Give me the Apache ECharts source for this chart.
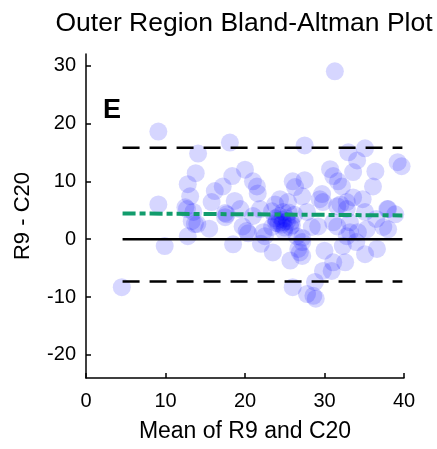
<!DOCTYPE html>
<html>
<head>
<meta charset="utf-8">
<style>
  html, body { margin: 0; padding: 0; background: #fff; }
  #chart { width: 437px; height: 449px; }
</style>
<script src="https://cdn.jsdelivr.net/npm/echarts@6/dist/echarts.min.js"></script>
</head>
<body>
<div id="chart"></div>
<script>
// Mean of the two measurements (x) and their difference R9 - C20 (y)
const meanValues = [
  31.3, 9.1, 18.1, 27.5, 14.1, 33.0, 35.1, 34.1, 39.2, 39.7,
  20.0, 21.0, 21.5, 21.6, 26.0, 27.5, 26.3, 27.2, 30.7, 31.1,
  31.7, 32.2, 33.6, 36.4, 36.1, 29.7, 29.4, 33.6, 34.8, 38.0,
  38.9, 24.4, 23.8, 23.4, 32.0, 32.8, 21.9, 13.8, 12.8, 13.1,
  12.5, 9.1, 16.2, 17.2, 18.4, 15.8, 18.7, 19.4, 17.5, 13.5,
  12.7, 13.3, 13.7, 12.8, 9.9, 4.5, 18.5, 17.7, 20.2, 20.4,
  23.5, 25.7, 27.2, 26.7, 30.0, 29.8, 31.1, 32.3, 32.6, 35.1,
  36.6, 28.8, 26.0, 28.6, 28.9, 29.2, 28.4, 31.6, 32.8, 34.2,
  35.3, 37.4, 37.9, 38.0, 35.1, 32.8, 31.6, 19.7, 21.0, 22.3,
  23.4, 25.7, 26.5, 27.2, 24.8, 27.8, 25.4, 29.8, 27.8, 30.9,
  26.9, 27.2, 33.2, 31.1, 33.2, 14.0, 17.5, 22.5, 24.8, 24.0,
  24.6, 25.2, 25.0, 24.3, 25.8, 23.8, 26.2, 24.9, 25.5, 36.5,
  15.5, 22.0, 34.0, 24.2, 25.3, 24.7, 25.9, 23.9
];
const diffValues = [
  29.0, 18.6, 16.7, 16.2, 14.8, 15.0, 15.7, 13.6, 13.3, 12.6,
  12.0, 10.0, 9.1, 7.9, 10.0, 10.2, 9.0, 7.4, 12.1, 10.9,
  10.0, 9.1, 11.6, 11.7, 9.1, 7.8, 6.9, 7.2, 6.9, 5.2,
  4.3, 6.9, 6.0, 4.8, 6.0, 5.2, 5.2, 11.4, 9.5, 7.4,
  5.5, 6.0, 8.3, 9.1, 10.9, 6.4, 6.6, 5.2, 4.5, 4.7,
  5.2, 3.1, 2.6, 0.5, -1.2, -8.3, -0.9, 4.3, 1.4, 1.0,
  -2.3, -3.7, -2.9, -1.7, -2.0, -5.5, -4.0, -1.2, -4.0, -2.6,
  -1.7, -7.4, -8.3, -9.8, -10.3, 2.2, 2.1, 2.2, 0.5, 1.2,
  1.7, 2.1, 5.2, 1.7, 4.7, 6.4, 5.7, 2.2, 4.0, 1.2,
  2.1, 2.1, 0.5, -0.5, 4.7, 4.7, 6.4, 6.4, -9.5, -5.5,
  -2.3, 0.2, 1.2, 2.9, 2.9, 2.6, 3.8, 0.5, 2.9, 3.2,
  2.5, 3.6, 2.0, 4.0, 3.0, 3.6, 4.2, 1.4, 4.6, 3.5,
  1.8, -0.8, -0.5, 2.7, 3.1, 3.4, 2.4, 2.8
];

// Extent of the reference lines along the x axis
const lineExtent = [4.6, 39.8];
// Limits of agreement and the zero-difference line
const upperLimit = 15.8;
const lowerLimit = -7.3;
const zeroLevel = 0;
// Fitted trend of the difference against the mean, at the two ends
const trendValues = [4.45, 4.1];

const xTicks = [0, 10, 20, 30, 40];
const yTicks = [-20, -10, 0, 10, 20, 30];

const FONT = 'Liberation Sans, Arial, Helvetica, sans-serif';

const points = meanValues.map((m, i) => [m, diffValues[i]]);
const hLine = v => lineExtent.map(x => [x, v]);
const trendLine = lineExtent.map((x, i) => [x, trendValues[i]]);

const chart = echarts.init(document.getElementById('chart'), null, { renderer: 'canvas' });

chart.setOption({
  animation: false,
  backgroundColor: '#fff',
  grid: { left: 86, right: 33, top: 54, bottom: 71, containLabel: false },
  graphic: [
    {
      type: 'text', x: 244, y: 24,
      style: {
        text: 'Outer Region Bland-Altman Plot', font: '26.5px ' + FONT, fill: '#000',
        textAlign: 'center', textVerticalAlign: 'middle'
      }
    },
    {
      type: 'text', left: 103, top: 97,
      style: { text: 'E', font: 'bold 27px ' + FONT, fill: '#000' }
    }
  ],
  xAxis: {
    type: 'value',
    min: 0, max: 40, interval: 10,
    name: 'Mean of R9 and C20',
    nameLocation: 'middle',
    nameGap: 42,
    nameTextStyle: { fontFamily: FONT, fontSize: 23, color: '#000' },
    axisLine: { show: true, onZero: false, lineStyle: { color: '#000', width: 1.5 } },
    axisTick: { show: true, inside: true, length: 5, customValues: xTicks, lineStyle: { color: '#000', width: 1.5 } },
    axisLabel: { customValues: xTicks, margin: 13, fontFamily: FONT, fontSize: 20, color: '#000' },
    splitLine: { show: false }
  },
  yAxis: {
    type: 'value',
    min: -24, max: 32,
    name: 'R9 - C20',
    nameLocation: 'middle',
    nameGap: 52,
    nameTextStyle: { fontFamily: FONT, fontSize: 22, color: '#000' },
    axisLine: { show: true, onZero: false, lineStyle: { color: '#000', width: 1.5 } },
    axisTick: { show: true, inside: true, length: 5, customValues: yTicks, lineStyle: { color: '#000', width: 1.5 } },
    axisLabel: { customValues: yTicks, margin: 10, fontFamily: FONT, fontSize: 20, color: '#000' },
    splitLine: { show: false }
  },
  series: [
    {
      name: 'Differences',
      type: 'scatter',
      data: points,
      symbol: 'circle',
      symbolSize: 18,
      itemStyle: { color: 'rgba(0, 0, 255, 0.2)', borderWidth: 0 },
      z: 2
    },
    {
      name: 'Upper limit',
      type: 'line', data: hLine(upperLimit), symbol: 'none',
      lineStyle: { color: '#000', width: 2.5, type: [17, 10] }, z: 3
    },
    {
      name: 'Lower limit',
      type: 'line', data: hLine(lowerLimit), symbol: 'none',
      lineStyle: { color: '#000', width: 2.5, type: [17, 10] }, z: 3
    },
    {
      name: 'Zero',
      type: 'line', data: hLine(zeroLevel), symbol: 'none',
      lineStyle: { color: '#000', width: 2.5, type: 'solid' }, z: 3
    },
    {
      name: 'Trend',
      type: 'line', data: trendLine, symbol: 'none',
      lineStyle: { color: '#119c6c', width: 4, type: [13, 4, 6, 4] }, z: 4
    }
  ]
});
</script>
</body>
</html>
